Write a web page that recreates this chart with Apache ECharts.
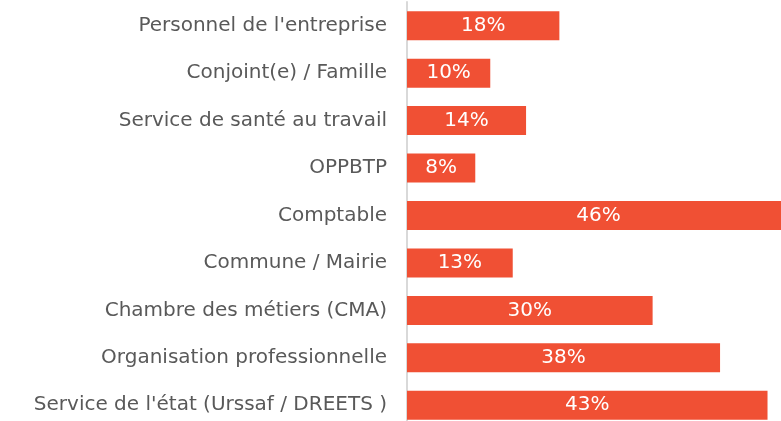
<!DOCTYPE html>
<html>
<head>
<meta charset="utf-8">
<script src="https://cdn.jsdelivr.net/npm/echarts@6/dist/echarts.min.js"></script>
<style>
html,body{margin:0;padding:0;background:#fff;}
#chart{width:781px;height:421px;}
</style>
</head>
<body>
<div id="chart"></div>
<script>
const categories = [
  "Personnel de l'entreprise",
  "Conjoint(e) / Famille",
  "Service de santé au travail",
  "OPPBTP",
  "Comptable",
  "Commune / Mairie",
  "Chambre des métiers (CMA)",
  "Organisation professionnelle",
  "Service de l'état (Urssaf / DREETS )"
];
const values = [18.3, 10.0, 14.3, 8.2, 46.0, 12.7, 29.5, 37.6, 43.3];

const chart = echarts.init(document.getElementById('chart'));
chart.setOption({
  animation: false,
  backgroundColor: '#ffffff',
  grid: { left: 407, width: 383, top: 2, height: 427, containLabel: false, outerBoundsMode: 'none' },
  xAxis: {
    type: 'value', min: 0, max: 46,
    show: false
  },
  yAxis: {
    type: 'category',
    data: categories,
    inverse: true,
    offset: 1,
    axisLine: { show: true, lineStyle: { color: '#d9d9d9', width: 2 } },
    axisTick: { show: false },
    axisLabel: {
      margin: 19,
      color: '#595959',
      fontFamily: 'DejaVu Sans',
      fontSize: 20
    }
  },
  series: [{
    type: 'bar',
    data: values,
    barWidth: 29,
    clip: false,
    itemStyle: { color: '#F05034' },
    label: {
      show: true,
      position: 'inside',
      color: '#ffffff',
      fontFamily: 'DejaVu Sans',
      fontSize: 20,
      formatter: p => Math.round(p.value) + '%'
    }
  }]
});
</script>
</body>
</html>
